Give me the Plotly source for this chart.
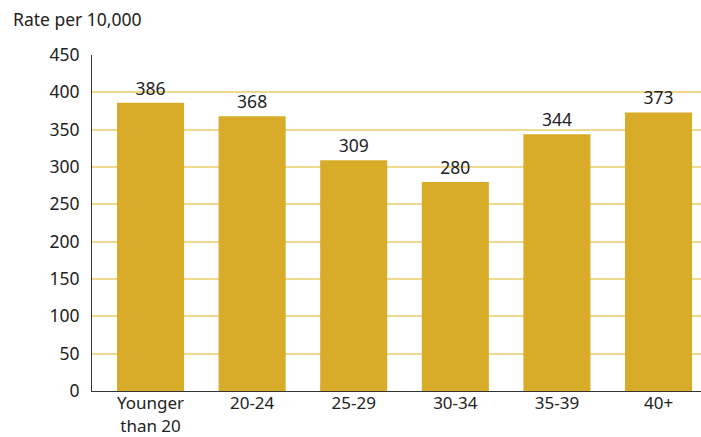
import plotly.graph_objects as go

categories = ["Younger<br>than 20", "20-24", "25-29", "30-34", "35-39", "40+"]
values = [386, 368, 309, 280, 344, 373]
y_ticks = [0, 50, 100, 150, 200, 250, 300, 350, 400, 450]

font = "Noto Sans, Open Sans, sans-serif"

fig = go.Figure(go.Bar(
    x=list(range(len(categories))), y=values,
    marker=dict(color="#D8AC29", line=dict(width=0)),
    width=0.66,
    text=[str(v) for v in values], textposition="outside",
    textfont=dict(size=17.5, color="#222222", family=font),
    cliponaxis=False,
))

fig.update_layout(
    width=701, height=437,
    margin=dict(l=92, r=0, t=55, b=46, autoexpand=False),
    plot_bgcolor="white", paper_bgcolor="white",
    showlegend=False,
    font=dict(family=font, size=17.5, color="#222222"),
    xaxis=dict(
        tickmode="array", tickvals=list(range(len(categories))), ticktext=categories,
        range=[-0.576, 5.418], showgrid=False, showline=True, linecolor="#333333",
        linewidth=1, ticks="", tickfont=dict(size=17), zeroline=False,
        automargin=False, ticklabelstandoff=-3,
    ),
    yaxis=dict(
        range=[0, 450], tickvals=y_ticks, showgrid=True, gridcolor="#F0D98C",
        gridwidth=2, showline=True, linecolor="#333333", linewidth=1,
        ticks="", ticklen=0, tickfont=dict(size=17.5), zeroline=False,
        ticklabelstandoff=8, automargin=False,
    ),
    annotations=[dict(
        text="Rate per 10,000", xref="paper", yref="paper", x=0, y=1,
        xanchor="left", yanchor="bottom", xshift=-81, yshift=22,
        showarrow=False, font=dict(size=17.5, color="#222222"),
    )],
    bargap=0.34,
)

fig.write_html("out.html")
